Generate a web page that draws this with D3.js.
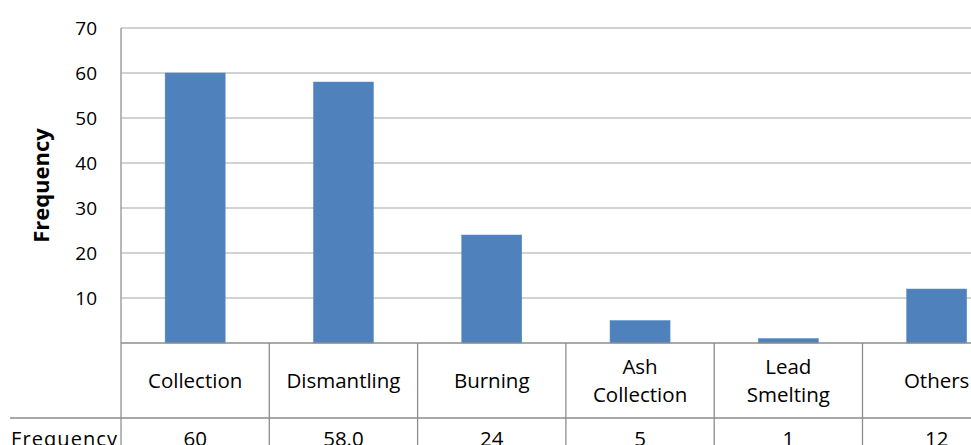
<!DOCTYPE html>
<html><head><meta charset="utf-8">
<script src="https://cdn.jsdelivr.net/npm/d3@7"></script>
<style>body{margin:0;background:#fff;overflow:hidden}svg{display:block}</style>
</head><body>
<svg id="c" width="971" height="445"></svg>
<script>
const categories = [["Collection"],["Dismantling"],["Burning"],["Ash","Collection"],["Lead","Smelting"],["Others"]];
const values = [60, 58, 24, 5, 1, 12];
const valueLabels = ["60", "58.0", "24", "5", "1", "12"];
const yTicks = [10, 20, 30, 40, 50, 60, 70];
const seriesName = "Frequency";

(function(){
const svg = d3.select("#c");
const mLeft = 121, mTop = 28, mBottom = 343, bandW = 148.3;
const font = "'Open Sans', sans-serif";
const x = d3.scaleBand().domain(d3.range(categories.length)).range([mLeft, mLeft + bandW * categories.length]).paddingInner(0.595).paddingOuter(0.2975);
const xb = d3.scaleBand().domain(d3.range(categories.length)).range([mLeft, mLeft + bandW * categories.length]);
const y = d3.scaleLinear().domain([0, 70]).range([mBottom, mTop]);

// gridlines
svg.append("g").selectAll("line").data(yTicks).join("line")
  .attr("x1", mLeft).attr("x2", 971).attr("y1", d => y(d)).attr("y2", d => y(d))
  .attr("stroke", "#a6a6a6").attr("stroke-width", 1.2);

// bars
svg.append("g").selectAll("rect").data(values).join("rect")
  .attr("x", (d, i) => x(i)).attr("width", x.bandwidth())
  .attr("y", d => y(d)).attr("height", d => y(0) - y(d))
  .attr("fill", "#4f81bd").attr("stroke", "#5b8cc6").attr("stroke-width", 0.5);

// y axis
const ya = svg.append("g").attr("transform", `translate(${mLeft},0)`)
  .call(d3.axisLeft(y).tickValues(yTicks).tickSize(0).tickPadding(24));
ya.select(".domain").attr("stroke", "#a0a0a0").attr("stroke-width", 1.5).attr("d", `M0,${mTop}V445`);
ya.selectAll("text").attr("font-family", font).attr("font-size", 19).attr("fill", "#000");

// y title
svg.append("text").attr("transform", `translate(49,${(mTop + mBottom) / 2}) rotate(-90)`)
  .attr("text-anchor", "middle").attr("font-family", font).attr("font-size", 22).attr("font-weight", "bold")
  .text("Frequency");

// table
const tg = svg.append("g");
tg.append("line").attr("x1", mLeft).attr("x2", 971).attr("y1", mBottom).attr("y2", mBottom).attr("stroke", "#8c8c8c").attr("stroke-width", 1.3);
tg.append("line").attr("x1", 10).attr("x2", 971).attr("y1", 418).attr("y2", 418).attr("stroke", "#8c8c8c").attr("stroke-width", 1.3);
tg.selectAll(".v").data(d3.range(1, categories.length + 1)).join("line").attr("class", "v")
  .attr("x1", i => xb(0) + i * xb.bandwidth()).attr("x2", i => xb(0) + i * xb.bandwidth())
  .attr("y1", mBottom).attr("y2", 445).attr("stroke", "#8c8c8c").attr("stroke-width", 1.3);

const cat = tg.selectAll(".cat").data(categories).join("text").attr("class", "cat")
  .attr("text-anchor", "middle").attr("font-family", font).attr("font-size", 20.5);
cat.each(function(lines, i) {
  const t = d3.select(this);
  const cx = xb(i) + xb.bandwidth() / 2;
  const startY = 381 - (lines.length - 1) * 14;
  lines.forEach((l, j) => t.append("tspan").attr("x", cx).attr("y", startY + j * 28).attr("dy", "0.35em").text(l));
});

tg.selectAll(".val").data(valueLabels).join("text").attr("class", "val")
  .attr("x", (d, i) => xb(i) + xb.bandwidth() / 2).attr("y", 439).attr("dy", "0.35em")
  .attr("text-anchor", "middle").attr("font-family", font).attr("font-size", 20.5).text(d => d);

tg.append("text").attr("x", 11).attr("y", 439).attr("dy", "0.35em")
  .attr("font-family", font).attr("font-size", 20).attr("textLength", 106).text(seriesName);
})();
</script>
</body></html>
